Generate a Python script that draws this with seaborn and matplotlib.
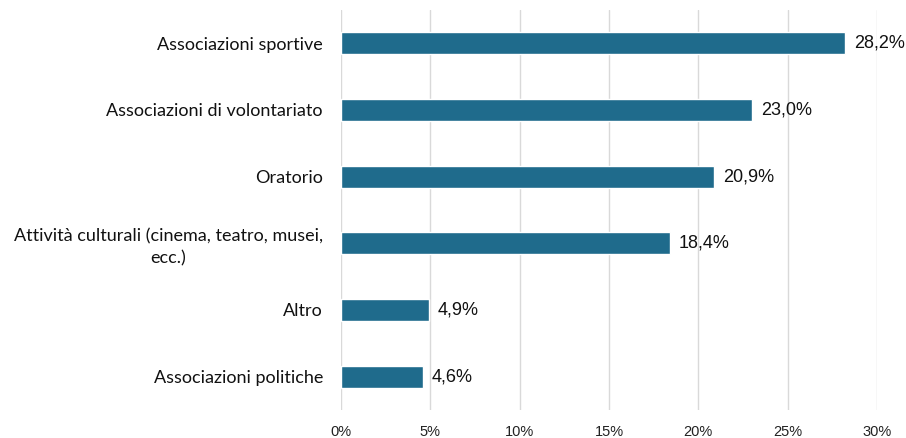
import matplotlib
matplotlib.use("Agg")
import matplotlib.pyplot as plt
import seaborn as sns
import pandas as pd

categories = [
    "Associazioni sportive",
    "Associazioni di volontariato",
    "Oratorio",
    "Attività culturali (cinema, teatro, musei,\necc.)",
    "Altro",
    "Associazioni politiche",
]
values = [28.2, 23.0, 20.9, 18.4, 4.9, 4.6]
xticks = [0, 5, 10, 15, 20, 25, 30]
xtick_labels = ["0%", "5%", "10%", "15%", "20%", "25%", "30%"]

df = pd.DataFrame({"cat": categories, "val": values})

sns.set_theme(style="white")
plt.rcParams["font.family"] = ["Liberation Sans", "DejaVu Sans"]

fig = plt.figure(figsize=(9.06, 4.38), dpi=100)
ax = fig.add_axes([341 / 906, 1 - 410 / 438, (877 - 341) / 906, 400 / 438])

sns.barplot(data=df, x="val", y="cat", color="#1F6B8C", saturation=1,
            width=0.33, ax=ax, orient="h")

ax.set_xlim(0, 30)
ax.set_ylim(5.5, -0.5)
ax.set_xticks(xticks)
ax.set_xticklabels(xtick_labels, fontsize=10.5, color="#222222",
                   family=["Liberation Sans", "DejaVu Sans"])
ax.xaxis.grid(True, color="#D9D9D9", linewidth=1)
ax.set_axisbelow(True)
for s in ax.spines.values():
    s.set_visible(False)
ax.tick_params(axis="x", length=0, pad=11)
ax.tick_params(axis="y", length=0, pad=13)
ax.set_xlabel("")
ax.set_ylabel("")

for lbl in ax.get_yticklabels():
    lbl.set_fontfamily(["Lato", "DejaVu Sans"])
    lbl.set_fontsize(13)
    lbl.set_color("#111111")
    lbl.set_multialignment("center")
    lbl.set_linespacing(1.45)

for i, v in enumerate(values):
    ax.text(v + 0.5, i, f"{v:.1f}%".replace(".", ","), va="center", ha="left",
            fontsize=13, color="#111111", clip_on=False,
            family=["Liberation Sans", "DejaVu Sans"])

fig.savefig("out.png", dpi=100)
